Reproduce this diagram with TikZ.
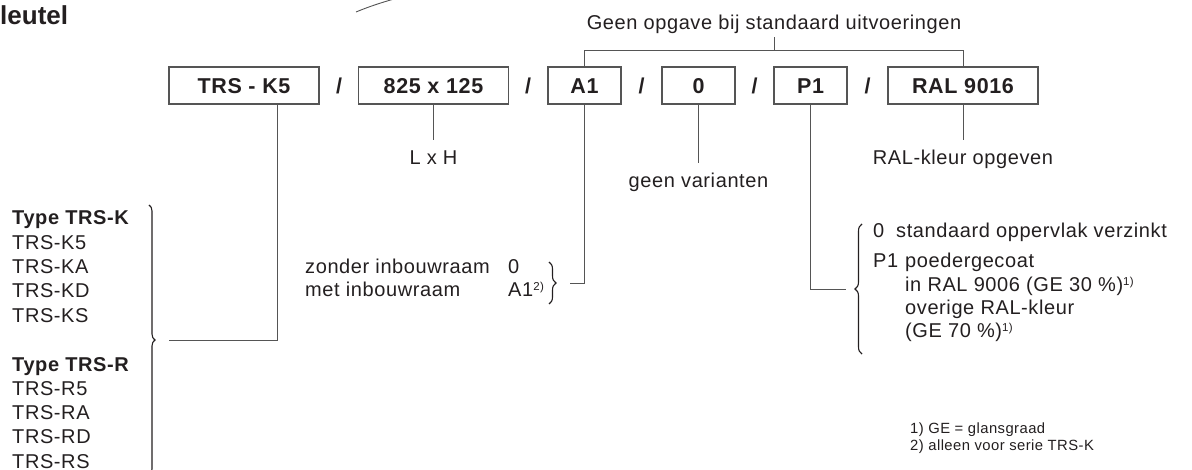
\documentclass[tikz,border=0pt]{standalone}
\usepackage{fontspec}
\setmainfont{Liberation Sans}[LetterSpace=3]
\newfontfamily\titelfont{Liberation Sans}
\usetikzlibrary{decorations.pathreplacing}
\definecolor{inkt}{RGB}{35,31,32}
\definecolor{lijn}{RGB}{85,85,85}
\newcommand{\voetref}[1]{\raisebox{6pt}{\fontsize{11.5}{12}\selectfont #1}}

\begin{document}
\begin{tikzpicture}[x=1pt,y=-1pt,
  every node/.style={inner sep=0pt,text=inkt},
  tekst/.style={font=\fontsize{20}{24}\selectfont,text height=14.3pt,text depth=4.2pt},
  vet/.style={tekst,font=\fontsize{20}{24}\selectfont\bfseries},
  streep/.style={font=\fontsize{21.5}{25}\selectfont\bfseries,text height=15.4pt,text depth=0pt},
  vak/.style={streep,draw=lijn,line width=1.1pt,minimum width=150pt,minimum height=37pt},
  kvak/.style={vak,minimum width=73pt},
  voetnoot/.style={font=\fontsize{14.8}{18}\selectfont},
  verbind/.style={draw=lijn,line width=0.9pt},
  accolade/.style={draw=inkt,line width=1.1pt,decorate,decoration={brace,amplitude=#1}}]
\useasboundingbox (0,0) rectangle (1192,470);
\node[anchor=base west,font={\titelfont\fontsize{26}{30}\selectfont\bfseries}] (titel) at (0,25) {leutel};
\draw[verbind] (356,12) .. controls (368,7) and (380,3) .. (394,-1);

\node[vak] (trsk) at (244,85.5) {TRS - K5};
\node[vak] (maat) at (433.5,85.5) {825 x 125};
\node[kvak] (inbouw) at (584.5,85.5) {A1};
\node[kvak] (variant) at (698.5,85.5) {0};
\node[kvak] (opp) at (810.5,85.5) {P1};
\node[vak] (ral) at (963,85.5) {RAL 9016};
\foreach \x/\n in {339/s1,528/s2,641.5/s3,754.5/s4,867.5/s5}
  \node[streep] (\n) at (\x,85.5) {/};

\node[tekst,anchor=base] (geen) at (774,30) {Geen opgave bij standaard uitvoeringen};
\draw[verbind] (inbouw.north) -- ++(0,-16) coordinate (kam) -| (ral.north);
\draw[verbind] ([yshift=-3pt]geen.south) -- (geen.south |- kam);

\node[tekst,anchor=base] (lxh) at (433.5,165) {L x H};
\node[tekst,anchor=base] (geenvar) at (698.5,188) {geen varianten};
\node[tekst,anchor=base] (ralkleur) at (963,165) {RAL-kleur opgeven};
\draw[verbind] (maat.south) -- ([yshift=10pt]lxh.north);
\draw[verbind] (variant.south) -- ([yshift=10pt]geenvar.north);
\draw[verbind] (ral.south) -- ([yshift=10pt]ralkleur.north);

\node[vet,anchor=base west] (typek) at (12,225) {Type TRS-K};
\foreach \t [count=\i] in {K5,KA,KD,KS}
  \node[tekst,anchor=base west] (k\t) at (12,225+24.3*\i) {TRS-\t};
\node[vet,anchor=base west] (typer) at (12,371) {Type TRS-R};
\foreach \t [count=\i] in {R5,RA,RD,RS}
  \node[tekst,anchor=base west] (r\t) at (12,371+24.3*\i) {TRS-\t};
\draw[accolade=6pt] (149,205) -- (149,475);
\coordinate (tk) at (169,340);
\draw[verbind] ([xshift=33.5pt]trsk.south) |- (tk);

\node[tekst,anchor=base west] (zonder) at (305,274) {zonder inbouwraam};
\node[tekst,anchor=base west] (met) at (305,297) {met inbouwraam};
\node[tekst,anchor=base west] (code0) at (508,274) {0};
\node[tekst,anchor=base west] (codea) at (508,297) {A1\voetref{2)}};
\draw[accolade=7pt] (549,262) -- (549,304);
\coordinate (zk) at (570,283);
\draw[verbind] (inbouw.south) |- (zk);

\node[tekst,anchor=base west] (opp0) at (873,238) {0};
\node[tekst,anchor=base west] (opp0t) at (896,238) {standaard oppervlak verzinkt};
\node[tekst,anchor=base west] (opp1) at (873,268) {P1};
\node[tekst,anchor=base west] (opp1a) at (905,268) {poedergecoat};
\node[tekst,anchor=base west] (opp1b) at (905,292) {in RAL 9006 (GE 30 \%)\voetref{1)}};
\node[tekst,anchor=base west] (opp1c) at (905,315) {overige RAL-kleur};
\node[tekst,anchor=base west] (opp1d) at (905,338) {(GE 70 \%)\voetref{1)}};
\draw[accolade=7pt] (862,354) -- (862,224);
\coordinate (ok) at (846,289);
\draw[verbind] (opp.south) |- (ok);

\node[voetnoot,anchor=base west] (noot1) at (910,433) {1) GE = glansgraad};
\node[voetnoot,anchor=base west] (noot2) at (910,450) {2) alleen voor serie TRS-K};
\end{tikzpicture}
\end{document}
